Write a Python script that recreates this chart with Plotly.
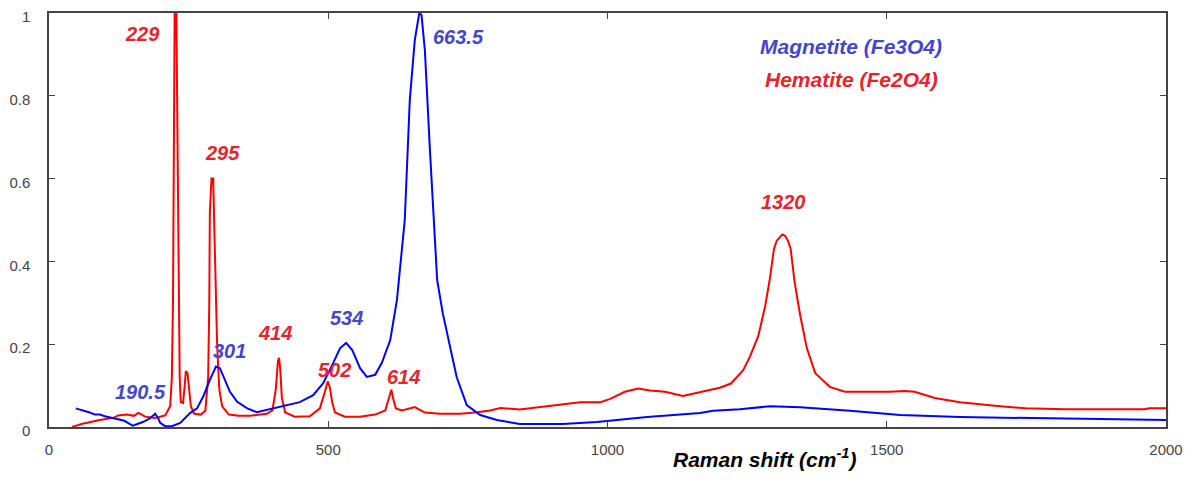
import plotly.graph_objects as go

# Hematite spectrum (red)
hem_x = [41, 60, 91, 115, 124, 140, 152, 160, 166, 172, 190, 208, 217, 220, 222, 223, 225, 228,
         230, 232, 234, 236, 240, 243, 245, 248, 251, 254, 260, 272, 280, 285, 287, 288, 291, 294,
         296, 298, 301, 305, 310, 322, 340, 360, 390, 400, 406, 410, 412, 414, 417, 423, 440, 467,
         485, 494, 499, 503, 507, 512, 530, 557, 584, 602, 609, 613, 616, 621, 632, 655, 673, 700,
         736, 763, 790, 808, 843, 879, 915, 951, 987, 1005, 1031, 1055, 1076, 1103, 1135, 1166,
         1201, 1221, 1243, 1255, 1270, 1282, 1291, 1298, 1303, 1313, 1318, 1323, 1328, 1335, 1345,
         1357, 1372, 1398, 1425, 1452, 1506, 1532, 1550, 1586, 1631, 1703, 1748, 1819, 1962, 1970, 2000]
hem_y = [0, 0.008, 0.017, 0.022, 0.028, 0.03, 0.027, 0.034, 0.03, 0.025, 0.022, 0.028, 0.05, 0.12,
         0.3, 0.71, 1.0, 1.0, 0.64, 0.3, 0.12, 0.06, 0.058, 0.1, 0.135, 0.13, 0.09, 0.05, 0.032, 0.03,
         0.04, 0.12, 0.3, 0.52, 0.6, 0.6, 0.48, 0.36, 0.2, 0.09, 0.05, 0.03, 0.027, 0.027, 0.032, 0.04,
         0.09, 0.16, 0.167, 0.14, 0.07, 0.035, 0.025, 0.026, 0.045, 0.085, 0.11, 0.095, 0.06, 0.035,
         0.025, 0.025, 0.03, 0.04, 0.075, 0.09, 0.07, 0.045, 0.04, 0.048, 0.035, 0.032, 0.032, 0.035,
         0.04, 0.046, 0.042, 0.048, 0.055, 0.06, 0.06, 0.068, 0.085, 0.093, 0.088, 0.085, 0.075, 0.085,
         0.095, 0.105, 0.137, 0.17, 0.22, 0.29, 0.36, 0.43, 0.45, 0.465, 0.462, 0.45, 0.43, 0.35, 0.27,
         0.19, 0.13, 0.097, 0.085, 0.085, 0.085, 0.087, 0.085, 0.07, 0.06, 0.05, 0.045, 0.043, 0.043,
         0.045, 0.045]

# Magnetite spectrum (blue)
mag_x = [48, 56, 64, 73, 82, 91, 100, 122, 135, 150, 160, 168, 180, 190, 196, 199, 208, 220, 235,
         252, 265, 276, 288, 299, 306, 315, 324, 337, 355, 372, 396, 419, 449, 473, 491, 509, 521,
         532, 543, 557, 569, 584, 596, 611, 623, 637, 646, 655, 663, 667, 673, 682, 691, 695, 705,
         718, 730, 748, 772, 802, 843, 920, 981, 1071, 1166, 1189, 1237, 1291, 1345, 1434, 1524,
         1631, 1792, 2000]
mag_y = [0.045, 0.042, 0.04, 0.035, 0.03, 0.03, 0.026, 0.02, 0.015, 0.003, 0.008, 0.012, 0.02,
         0.032, 0.02, 0.01, 0.002, 0.002, 0.01, 0.033, 0.045, 0.073, 0.114, 0.146, 0.142, 0.114,
         0.085, 0.061, 0.045, 0.036, 0.043, 0.051, 0.06, 0.077, 0.106, 0.155, 0.19, 0.203, 0.186,
         0.142, 0.121, 0.126, 0.155, 0.21, 0.307, 0.5, 0.79, 0.935, 1.0, 0.995, 0.91, 0.67, 0.43,
         0.355, 0.275, 0.195, 0.12, 0.053, 0.029, 0.017, 0.007, 0.007, 0.012, 0.024, 0.034, 0.039,
         0.043, 0.05, 0.048, 0.039, 0.029, 0.024, 0.021, 0.017]

# peak labels: (text, x, y, colour, size)
red_txt = '#e8232b'
blue_txt = '#4646c8'
peak_labels = [
    ('229', 167, 0.95, red_txt, 20),
    ('295', 311, 0.662, red_txt, 20),
    ('414', 405, 0.227, red_txt, 20),
    ('248', 258, -0.039, red_txt, 20),
    ('502', 512, 0.138, red_txt, 20),
    ('614', 634, 0.12, red_txt, 20),
    ('1320', 1316, 0.543, red_txt, 20),
    ('190.5', 164, 0.084, blue_txt, 20),
    ('301', 324, 0.184, blue_txt, 20),
    ('534', 533, 0.263, blue_txt, 20),
    ('663.5', 734, 0.942, blue_txt, 20),
    ('Magnetite (Fe3O4)', 1436, 0.92, blue_txt, 21),
    ('Hematite (Fe2O4)', 1437, 0.84, red_txt, 21),
]

y_ticks = [0, 0.2, 0.4, 0.6, 0.8, 1]
y_ticktext = ['0', '0.2', '0.4', '0.6', '0.8', '1']
x_ticks = [0, 500, 1000, 1500, 2000]

fig = go.Figure()
fig.add_trace(go.Scatter(x=hem_x, y=hem_y, mode='lines', name='Hematite',
                         line=dict(color='#ff0000', width=2)))
fig.add_trace(go.Scatter(x=mag_x, y=mag_y, mode='lines', name='Magnetite',
                         line=dict(color='#0000ff', width=2)))

annots = []
for txt, x, y, c, s in peak_labels:
    annots.append(dict(x=x, y=y, xref='x', yref='y', text='<b><i>' + txt + '</i></b>',
                       showarrow=False, font=dict(size=s, color=c)))
annots.append(dict(x=0.641, y=-0.11, xref='paper', yref='paper',
                   text='<b><i>Raman shift (cm<sup>-1</sup>)</i></b>', showarrow=False,
                   font=dict(size=21, color='black')))

# page body has an 8px margin, so margins are shifted to line the frame up
fig.update_layout(
    width=1192, height=489,
    paper_bgcolor='white', plot_bgcolor='white',
    showlegend=False,
    font=dict(family='Arial, Liberation Sans', size=15, color='#444'),
    margin=dict(l=41, r=34, t=5, b=70),
    annotations=annots,
    xaxis=dict(range=[0, 2000], tickvals=x_ticks, showgrid=False, zeroline=False,
               showline=True, linecolor='#444', linewidth=1.5, mirror='ticks',
               ticks='inside', ticklen=6, tickcolor='#444', ticklabelstandoff=8,
               ticklabeloverflow='allow', automargin=False),
    yaxis=dict(range=[0, 1], tickvals=y_ticks, ticktext=y_ticktext, showgrid=False,
               zeroline=False, showline=True, linecolor='#444', linewidth=1.5, mirror='ticks',
               ticks='inside', ticklen=6, tickcolor='#444', ticklabelstandoff=14,
               ticklabelshift=4, ticklabeloverflow='allow', automargin=False),
)

fig.write_html("out.html")
